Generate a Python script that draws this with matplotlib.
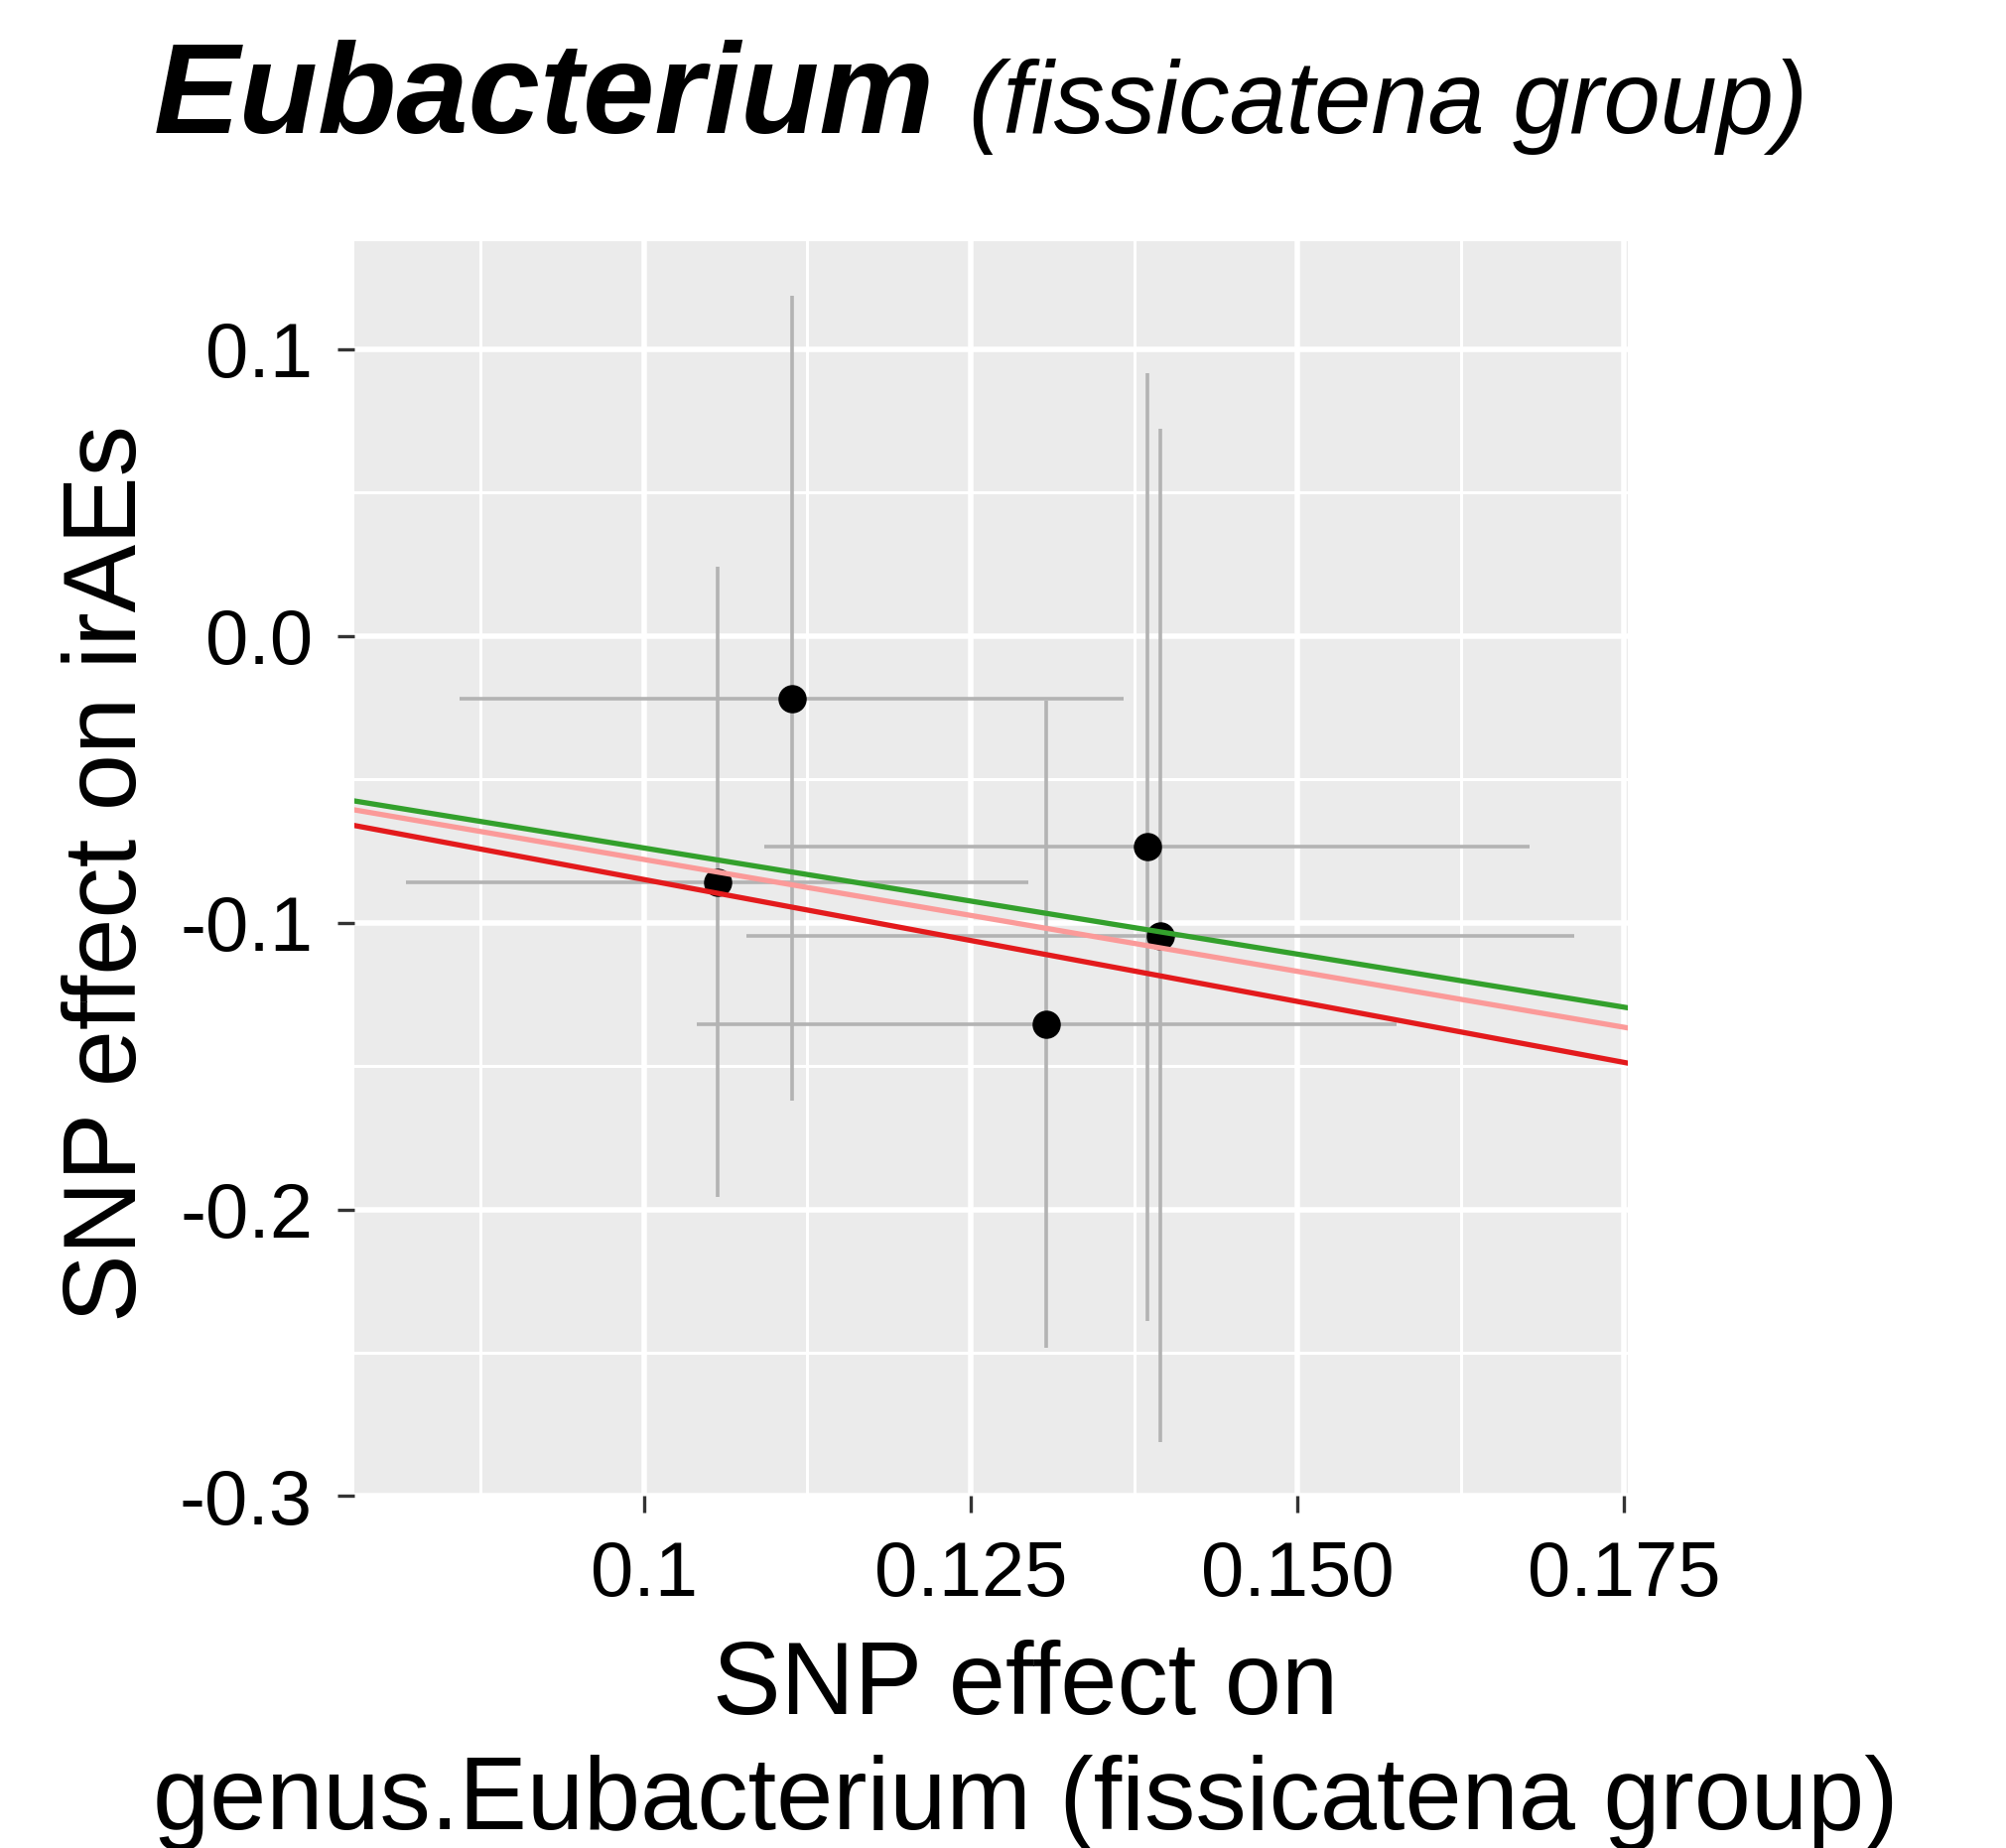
import matplotlib
matplotlib.use("Agg")
import matplotlib.pyplot as plt

# per-SNP effects on the exposure (x) and on the outcome (y), with standard errors
beta_exposure = [0.1056, 0.1113, 0.1308, 0.1385, 0.1395]
se_exposure = [0.0238, 0.0254, 0.0268, 0.0293, 0.0317]
beta_outcome = [-0.0859, -0.0218, -0.1355, -0.0736, -0.1046]
se_outcome = [0.1099, 0.1404, 0.1129, 0.1652, 0.1767]

# slopes of the fitted lines (through the origin)
fit_slopes = [-0.74, -0.78, -0.85]
fit_colors = ["#33a02c", "#fb9a99", "#e31a1c"]

x_ticks = [0.1, 0.125, 0.150, 0.175]
x_ticklabels = ["0.1", "0.125", "0.150", "0.175"]
y_ticks = [0.1, 0.0, -0.1, -0.2, -0.3]
y_ticklabels = ["0.1", "0.0", "-0.1", "-0.2", "-0.3"]

plt.rcParams["font.family"] = ["Liberation Sans", "DejaVu Sans"]

fig = plt.figure(figsize=(20.21, 18.62), dpi=100)
ax = fig.add_axes([0.1765, 0.1904, 0.635, 0.6791])
ax.set_facecolor("#ebebeb")

xlim = (0.0778, 0.1753)
ylim = (-0.3, 0.1376)

# grid
for v in [0.0875, 0.1125, 0.1375, 0.1625]:
    ax.axvline(v, color="white", lw=2.2, zorder=0)
for v in [0.05, -0.05, -0.15, -0.25]:
    ax.axhline(v, color="white", lw=2.2, zorder=0)
for v in x_ticks:
    ax.axvline(v, color="white", lw=4.0, zorder=0)
for v in y_ticks:
    ax.axhline(v, color="white", lw=4.0, zorder=0)

ax.errorbar(beta_exposure, beta_outcome, xerr=se_exposure, yerr=se_outcome,
            fmt="none", ecolor="#b3b3b3", elinewidth=2.6, capsize=0, zorder=2)
ax.scatter(beta_exposure, beta_outcome, s=380, color="black", zorder=3)

for slope, col in zip(fit_slopes, fit_colors):
    ax.axline((0, 0), slope=slope, color=col, lw=3.8, zorder=4)

ax.set_xlim(*xlim)
ax.set_ylim(*ylim)
ax.set_xticks(x_ticks)
ax.set_xticklabels(x_ticklabels)
ax.set_yticks(y_ticks)
ax.set_yticklabels(y_ticklabels)
ax.tick_params(axis="both", direction="out", length=12, width=2.4,
               color="#333333", labelsize=56, labelcolor="black")
ax.tick_params(axis="x", pad=19)
ax.tick_params(axis="y", pad=18)
for s in ax.spines.values():
    s.set_visible(False)

ax.set_xlabel("SNP effect on\ngenus.Eubacterium (fissicatena group)",
              fontsize=74, linespacing=1.25)
ax.xaxis.set_label_coords(0.527, -0.1143)
ax.set_ylabel("SNP effect on irAEs", fontsize=74)
ax.yaxis.set_label_coords(-0.154, 0.496)

fig.text(0.0767, 0.928, "Eubacterium", fontsize=93.5, fontweight="bold",
         fontstyle="italic", va="baseline", ha="left")
fig.text(0.483, 0.928, "(fissicatena group)", fontsize=74,
         fontstyle="italic", va="baseline", ha="left")

fig.savefig("out.png", dpi=100)
